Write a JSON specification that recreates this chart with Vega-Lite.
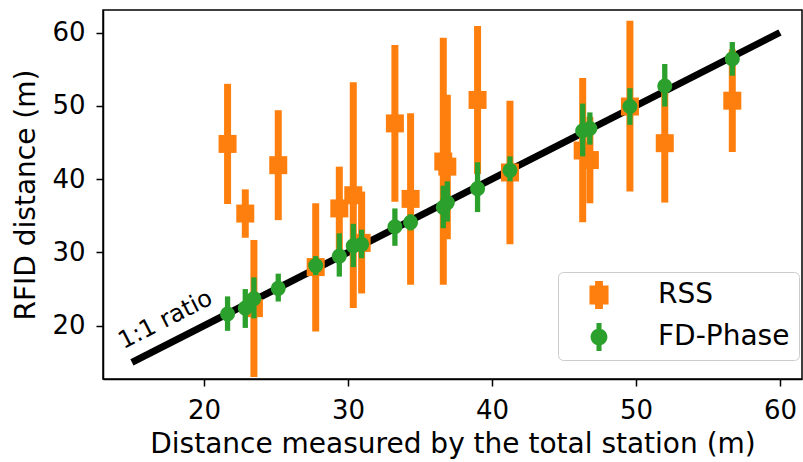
{
  "$schema": "https://vega.github.io/schema/vega-lite/v6.json",
  "width": 699,
  "height": 369,
  "autosize": {"type": "none"},
  "padding": {"left": 103, "top": 10, "right": 1, "bottom": 83},
  "background": "white",
  "config": {
    "view": {"stroke": "black", "strokeWidth": 1.5},
    "font": "DejaVu Sans",
    "axis": {
      "grid": false,
      "domainColor": "black",
      "domainWidth": 1.5,
      "tickColor": "black",
      "tickWidth": 1.5,
      "tickSize": 7,
      "labelFont": "DejaVu Sans",
      "labelFontSize": 26,
      "labelColor": "black",
      "labelPadding": 11,
      "titleFont": "DejaVu Sans",
      "titleFontSize": 28,
      "titleFontWeight": "normal",
      "titleColor": "black"
    }
  },
  "data": {
    "values": [
      {"series": "RSS", "x": 21.64, "y": 44.8, "lo": 36.6, "hi": 53.0},
      {"series": "RSS", "x": 22.87, "y": 35.3, "lo": 32.0, "hi": 38.6},
      {"series": "RSS", "x": 23.47, "y": 22.4, "lo": 13.0, "hi": 31.7},
      {"series": "RSS", "x": 25.16, "y": 41.9, "lo": 34.4, "hi": 49.4},
      {"series": "RSS", "x": 27.76, "y": 28.0, "lo": 19.2, "hi": 36.7},
      {"series": "RSS", "x": 29.4, "y": 36.0, "lo": 30.3, "hi": 41.7},
      {"series": "RSS", "x": 30.37, "y": 37.8, "lo": 22.4, "hi": 53.2},
      {"series": "RSS", "x": 30.95, "y": 31.3, "lo": 24.4, "hi": 38.3},
      {"series": "RSS", "x": 33.26, "y": 47.6, "lo": 36.9, "hi": 58.3},
      {"series": "RSS", "x": 34.35, "y": 37.3, "lo": 25.6, "hi": 49.0},
      {"series": "RSS", "x": 36.62, "y": 42.4, "lo": 25.6, "hi": 59.3},
      {"series": "RSS", "x": 36.9, "y": 41.7, "lo": 31.8, "hi": 51.5},
      {"series": "RSS", "x": 39.0, "y": 50.8, "lo": 40.7, "hi": 60.9},
      {"series": "RSS", "x": 41.25, "y": 40.9, "lo": 31.1, "hi": 50.7},
      {"series": "RSS", "x": 46.3, "y": 43.9, "lo": 34.1, "hi": 53.8},
      {"series": "RSS", "x": 46.8, "y": 42.6, "lo": 36.7, "hi": 48.5},
      {"series": "RSS", "x": 49.58, "y": 49.9, "lo": 38.3, "hi": 61.6},
      {"series": "RSS", "x": 52.0, "y": 44.9, "lo": 36.8, "hi": 53.0},
      {"series": "RSS", "x": 56.69, "y": 50.7, "lo": 43.7, "hi": 57.7},
      {"series": "FD-Phase", "x": 21.64, "y": 21.6, "lo": 19.3, "hi": 24.0},
      {"series": "FD-Phase", "x": 22.87, "y": 22.4, "lo": 19.7, "hi": 25.0},
      {"series": "FD-Phase", "x": 23.47, "y": 23.7, "lo": 21.0, "hi": 26.6},
      {"series": "FD-Phase", "x": 25.16, "y": 25.1, "lo": 23.3, "hi": 27.1},
      {"series": "FD-Phase", "x": 27.76, "y": 28.2, "lo": 26.9, "hi": 29.5},
      {"series": "FD-Phase", "x": 29.4, "y": 29.5, "lo": 26.7, "hi": 32.6},
      {"series": "FD-Phase", "x": 30.37, "y": 30.9, "lo": 28.0, "hi": 33.9},
      {"series": "FD-Phase", "x": 30.95, "y": 31.1, "lo": 29.2, "hi": 33.1},
      {"series": "FD-Phase", "x": 33.26, "y": 33.5, "lo": 30.9, "hi": 36.0},
      {"series": "FD-Phase", "x": 34.35, "y": 34.1, "lo": 33.0, "hi": 35.2},
      {"series": "FD-Phase", "x": 36.62, "y": 36.15, "lo": 33.3, "hi": 39.1},
      {"series": "FD-Phase", "x": 36.9, "y": 36.8, "lo": 34.2, "hi": 39.7},
      {"series": "FD-Phase", "x": 39.0, "y": 38.7, "lo": 35.5, "hi": 42.3},
      {"series": "FD-Phase", "x": 41.25, "y": 41.2, "lo": 39.7, "hi": 43.1},
      {"series": "FD-Phase", "x": 46.3, "y": 46.6, "lo": 43.1, "hi": 50.3},
      {"series": "FD-Phase", "x": 46.8, "y": 46.9, "lo": 44.7, "hi": 49.1},
      {"series": "FD-Phase", "x": 49.58, "y": 49.9, "lo": 47.4, "hi": 52.4},
      {"series": "FD-Phase", "x": 52.0, "y": 52.7, "lo": 49.9, "hi": 55.7},
      {"series": "FD-Phase", "x": 56.69, "y": 56.4, "lo": 54.1, "hi": 58.7}
    ]
  },
  "encoding": {
    "x": {
      "field": "x", "type": "quantitative",
      "scale": {"domain": [12.99, 61.53], "nice": false, "zero": false},
      "axis": {"values": [20, 30, 40, 50, 60], "title": "Distance measured by the total station (m)", "titlePadding": 7}
    },
    "y": {
      "field": "y", "type": "quantitative",
      "scale": {"domain": [12.73, 63.07], "nice": false, "zero": false},
      "axis": {"values": [20, 30, 40, 50, 60], "title": "RFID distance (m)", "titlePadding": 11}
    }
  },
  "layer": [
    {
      "data": {"values": [{"x": 15, "y": 15}, {"x": 60, "y": 60}]},
      "mark": {"type": "line", "color": "black", "strokeWidth": 7, "strokeCap": "butt"},
      "encoding": {}
    },
    {
      "data": {"values": [{"x": 17.34, "y": 20.78, "label": "1:1 ratio"}]},
      "mark": {"type": "text", "angle": 333, "fontSize": 24, "font": "DejaVu Sans", "color": "black", "align": "center", "baseline": "middle"},
      "encoding": {"text": {"field": "label"}}
    },
    {
      "transform": [{"filter": "datum.series === 'RSS'"}],
      "mark": {"type": "rule", "color": "#ff7f0e", "strokeWidth": 7, "strokeCap": "butt"},
      "encoding": {"y": {"field": "lo", "type": "quantitative"}, "y2": {"field": "hi"}}
    },
    {
      "transform": [{"filter": "datum.series === 'RSS'"}],
      "mark": {"type": "point", "shape": "square", "filled": true, "opacity": 1, "color": "#ff7f0e", "size": 324}
    },
    {
      "transform": [{"filter": "datum.series === 'FD-Phase'"}],
      "mark": {"type": "rule", "color": "#2ca02c", "strokeWidth": 5.3, "strokeCap": "butt"},
      "encoding": {"y": {"field": "lo", "type": "quantitative"}, "y2": {"field": "hi"}}
    },
    {
      "transform": [{"filter": "datum.series === 'FD-Phase'"}],
      "mark": {"type": "point", "shape": "circle", "filled": true, "opacity": 1, "color": "#2ca02c", "size": 227}
    },
    {
      "mark": {"type": "point", "filled": true, "opacity": 0},
      "encoding": {
        "color": {
          "field": "series", "type": "nominal",
          "scale": {"domain": ["RSS", "FD-Phase"], "range": ["#ff7f0e", "#2ca02c"]},
          "legend": {
            "title": null, "orient": "none", "legendX": 455, "legendY": 262,
            "fillColor": "white", "strokeColor": "#cccccc", "cornerRadius": 5, "padding": 9,
            "symbolSize": 784, "symbolOffset": 18, "symbolStrokeWidth": 0, "symbolOpacity": 1,
            "labelFontSize": 28, "labelFont": "DejaVu Sans", "labelColor": "black", "labelOffset": 45,
            "rowPadding": 14, "labelLimit": 300
          }
        },
        "shape": {
          "field": "series", "type": "nominal",
          "scale": {"domain": ["RSS", "FD-Phase"], "range": ["M-0.68,-0.68H0.68V0.68H-0.68Z M-0.28,-1H0.28V1H-0.28Z", "M-0.6,0A0.6,0.6 0 1,1 0.6,0A0.6,0.6 0 1,1 -0.6,0Z M-0.18,-1H0.18V1H-0.18Z"]},
          "legend": {
            "title": null, "orient": "none", "legendX": 455, "legendY": 262,
            "fillColor": "white", "strokeColor": "#cccccc", "cornerRadius": 5, "padding": 9,
            "symbolSize": 784, "symbolOffset": 18, "symbolStrokeWidth": 0, "symbolOpacity": 1,
            "labelFontSize": 28, "labelFont": "DejaVu Sans", "labelColor": "black", "labelOffset": 45,
            "rowPadding": 14, "labelLimit": 300
          }
        }
      }
    }
  ]
}
